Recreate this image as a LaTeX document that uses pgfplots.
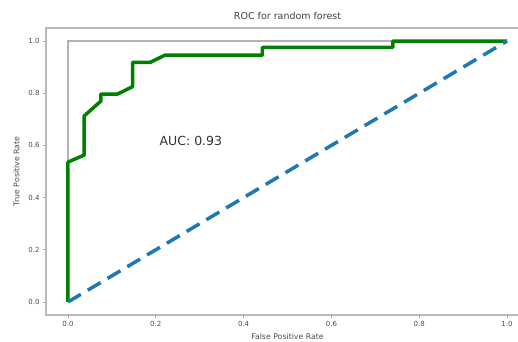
\documentclass[border=0pt]{standalone}
\usepackage{pgfplots}
\pgfplotsset{compat=1.18}
\usepackage{fontspec}
\setmainfont{DejaVu Sans}
\definecolor{mplblue}{HTML}{1F77B4}
\definecolor{mplgreen}{HTML}{008000}
\begin{document}
\begin{tikzpicture}
\begin{axis}[
  scale only axis,
  width=483pt, height=287pt,
  xmin=-0.05, xmax=1.05, ymin=-0.05, ymax=1.05,
  xtick={0,0.2,0.4,0.6,0.8,1.0},
  ytick={0,0.2,0.4,0.6,0.8,1.0},
  xticklabels={0.0,0.2,0.4,0.6,0.8,1.0},
  yticklabels={0.0,0.2,0.4,0.6,0.8,1.0},
  tick align=outside,
  tick pos=left,
  major tick length=3pt,
  every tick/.style={gray!70, line width=0.8pt},
  axis line style={gray!55, line width=1.5pt},
  tick label style={font=\fontsize{7}{8}\selectfont, text=black!70},
  /pgf/number format/assume math mode=true,
  title={ROC for random forest},
  title style={font=\fontsize{9.5}{10}\selectfont, text=black!75, yshift=-1pt},
  xlabel={False Positive Rate},
  ylabel={True Positive Rate},
  label style={font=\fontsize{7.8}{8}\selectfont, text=black!70},
  xlabel style={yshift=0pt},
  ylabel style={yshift=2pt},
  clip=false,
]
\addplot[gray!60, line width=1.5pt] coordinates {(0,0) (0,1) (1,1)};
\addplot[mplgreen, line width=3.5pt, line join=round] coordinates {
(0,0) (0,0.536) (0.037,0.563) (0.037,0.713) (0.075,0.77) (0.075,0.797)
(0.113,0.797) (0.147,0.825) (0.147,0.918) (0.187,0.918) (0.221,0.946)
(0.443,0.946) (0.443,0.976) (0.74,0.976) (0.74,1.0) (1,1)};
\addplot[mplblue, line width=3.5pt, dash pattern=on 15pt off 8pt] coordinates {(0,0) (1,1)};
\node[font=\fontsize{12.5}{14}\selectfont, text=black!80] at (axis cs:0.28,0.617) {AUC: 0.93};
\end{axis}
\pgfresetboundingbox
\path[use as bounding box] (-46pt,-26pt) rectangle (472pt,315pt);
\end{tikzpicture}
\end{document}
